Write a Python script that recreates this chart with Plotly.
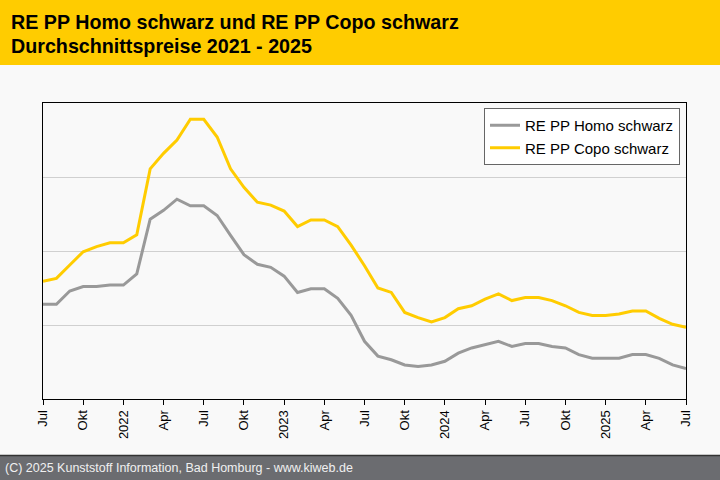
import plotly.graph_objects as go

months = ["Jul", "Okt", "2022", "Apr", "Jul", "Okt", "2023", "Apr", "Jul",
          "Okt", "2024", "Apr", "Jul", "Okt", "2025", "Apr", "Jul"]

homo = [128, 128, 146, 152, 152, 154, 154, 169, 243, 255, 270, 261, 261,
        248, 221, 195, 182, 178, 166, 144, 149, 149, 136, 113, 78, 58,
        53, 46, 44, 46, 51, 62, 69, 73, 78, 71, 75, 75, 71, 69, 60, 55,
        55, 55, 60, 60, 55, 46, 41]

copo = [159, 163, 181, 199, 206, 211, 211, 222, 311, 332, 350, 378, 378,
        354, 311, 286, 266, 262, 254, 233, 242, 242, 233, 208, 180, 150,
        144, 117, 110, 104, 110, 122, 126, 135, 142, 133, 137, 137, 133,
        126, 117, 113, 113, 115, 119, 119, 109, 101, 97]

series_names = ["RE PP Homo schwarz", "RE PP Copo schwarz"]
title_lines = ["RE PP Homo schwarz und RE PP Copo schwarz",
               "Durchschnittspreise 2021 - 2025"]
footer = "(C) 2025 Kunststoff Information, Bad Homburg - www.kiweb.de"

x = list(range(len(homo)))
tickvals = list(range(0, len(homo), 3))

W, H = 720, 480
L, R, T, B = 43, 686, 103, 399


def px(X):
    return (X - L) / (R - L)


def py(Y):
    return (B - Y) / (B - T)


fig = go.Figure()
fig.add_trace(go.Scatter(x=x, y=homo, mode="lines", name=series_names[0],
                         line=dict(color="#999999", width=3)))
fig.add_trace(go.Scatter(x=x, y=copo, mode="lines", name=series_names[1],
                         line=dict(color="#FFCC00", width=3)))

shapes = [
    dict(type="rect", xref="paper", yref="paper", x0=px(0), x1=px(W),
         y0=py(65), y1=py(0), fillcolor="#FFCC00", line=dict(width=0), layer="below"),
    dict(type="rect", xref="paper", yref="paper", x0=px(0), x1=px(W),
         y0=py(H), y1=py(455), fillcolor="#6B6C70", line=dict(width=0), layer="below"),
    dict(type="line", xref="paper", yref="paper", x0=px(0), x1=px(W),
         y0=py(455.5), y1=py(455.5), line=dict(color="#333333", width=1.5)),
]

annotations = [
    dict(text="<b>" + title_lines[0] + "</b>", xref="paper", yref="paper",
         x=px(9), y=py(22), xanchor="left", yanchor="middle", showarrow=False,
         font=dict(family="Liberation Sans, Arial", size=19.7, color="black")),
    dict(text="<b>" + title_lines[1] + "</b>", xref="paper", yref="paper",
         x=px(9), y=py(46), xanchor="left", yanchor="middle", showarrow=False,
         font=dict(family="Liberation Sans, Arial", size=19.7, color="black")),
    dict(text=footer, xref="paper", yref="paper",
         x=px(3), y=py(468), xanchor="left", yanchor="middle", showarrow=False,
         font=dict(family="Liberation Sans Narrow, Arial Narrow, Liberation Sans", size=12.5,
                   color="#F0F0F0")),
]

fig.update_layout(
    width=W, height=H,
    margin=dict(l=L, r=W - R, t=T, b=H - B, pad=0),
    paper_bgcolor="#F9F9F9", plot_bgcolor="#F9F9F9",
    showlegend=True,
    legend=dict(x=px(680), y=py(108), xanchor="right", yanchor="top",
                bgcolor="#FFFFFF", bordercolor="#666666", borderwidth=1,
                font=dict(family="Liberation Sans, Arial", size=15, color="black"),
                tracegroupgap=0, itemwidth=30),
    shapes=shapes, annotations=annotations,
    xaxis=dict(range=[0, len(homo) - 1], tickvals=tickvals, ticktext=months,
               tickangle=-90, ticks="outside", ticklen=5, tickcolor="black",
               showline=True, linecolor="black", linewidth=1, mirror=True,
               showgrid=False, zeroline=False,
               tickfont=dict(family="Liberation Sans, Arial", size=13, color="black")),
    yaxis=dict(range=[0, 400], tickvals=[100, 200, 300], showticklabels=False,
               showline=True, linecolor="black", linewidth=1, mirror=True,
               showgrid=True, gridcolor="#D0D0D0", gridwidth=1, zeroline=False,
               ticks=""),
)

fig.write_html("out.html", config={"displayModeBar": False},
               post_script="document.body.style.margin='0';document.body.style.overflow='hidden';")
